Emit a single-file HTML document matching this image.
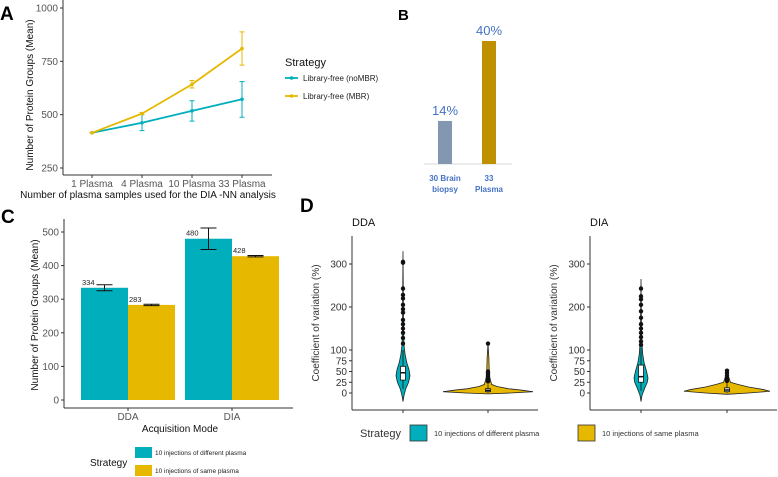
<!DOCTYPE html>
<html><head><meta charset="utf-8"><style>
body{margin:0;background:#fff;}
svg{display:block;font-family:"Liberation Sans",Arial,sans-serif;}
</style></head><body>
<svg id="fig" width="778" height="477" viewBox="0 0 778 477"></svg>
<script>
// ---- Panel A data ----
const aCats=["1 Plasma","4 Plasma","10 Plasma","33 Plasma"];
const aNoMBR=[415,462,518,572];
const aNoMBRLo=[415,425,470,488];
const aNoMBRHi=[415,500,565,655];
const aMBR=[415,505,642,810];
const aMBRLo=[415,500,625,732];
const aMBRHi=[415,510,660,888];
const aTicks=[250,500,750,1000];
// ---- Panel B data ----
const bCats=[["30 Brain","biopsy"],["33","Plasma"]];
const bVals=[14,40];
// ---- Panel C data ----
const cModes=["DDA","DIA"];
const cDiff=[334,480];
const cDiffLo=[325,448];
const cDiffHi=[343,512];
const cSame=[283,428];
const cSameLo=[281,426];
const cSameHi=[285,430];
const cTicks=[0,100,200,300,400,500];
// ---- Panel D data ----
const dTicks=[0,25,50,75,100,200,300];
const ddaDiffProfile=[[-20,0],[-5,0.15],[10,0.4],[25,0.8],[40,1],[55,0.85],[70,0.55],[90,0.3],[110,0.15],[150,0.08],[200,0.05],[260,0.03],[330,0]];
const ddaSameProfile=[[-2,0],[0,0.5],[3,1],[6,0.8],[10,0.45],[15,0.2],[20,0.08],[40,0.03],[80,0.02],[115,0]];
const diaDiffProfile=[[-20,0],[-5,0.15],[10,0.5],[25,0.9],[35,1],[50,0.8],[70,0.45],[90,0.25],[120,0.12],[170,0.05],[220,0.03],[265,0]];
const diaSameProfile=[[-3,0],[0,0.5],[4,1],[8,0.85],[14,0.5],[20,0.25],[25,0.08],[40,0.03],[52,0]];
const ddaDiffBox=[30,47,62,10,100];
const ddaSameBox=[3,6,10,0,20];
const diaDiffBox=[25,38,65,5,105];
const diaSameBox=[3,7,12,0,25];
const ddaDiffOut=[305,303,243,228,220,205,195,187,170,160,150,140,128,115];
const ddaSameOut=[115,50,46,42,38,34,30,27];
const diaDiffOut=[243,225,218,205,190,175,160,150,140,130,120,112];
const diaSameOut=[52,46,40,35,31,28];

const TEAL="#00AFBB",YEL="#E7B800",NS="http://www.w3.org/2000/svg";
const svg=document.getElementById('fig');
function el(tag,attrs,parent,txt){const e=document.createElementNS(NS,tag);for(const k in attrs)e.setAttribute(k,attrs[k]);if(txt!==undefined)e.textContent=txt;(parent||svg).appendChild(e);return e;}
function grp(name){const g=el('g',{},svg);return g;}

// ===== Panel A =====
const gA=grp('panel-a');
const aY=v=>168-(v-250)*(160/750);
const aX=i=>92+i*50;
let t=el('text',{x:0,y:20,'font-size':19,'font-weight':'bold'},gA,'A');
el('line',{x1:63,y1:0,x2:63,y2:175,stroke:'#333','stroke-width':1},gA);
el('line',{x1:63,y1:175,x2:272,y2:175,stroke:'#333','stroke-width':1},gA);
aTicks.forEach(v=>{el('line',{x1:60,x2:63,y1:aY(v),y2:aY(v),stroke:'#333'},gA);
 t=el('text',{x:58,y:aY(v)+3.5,'font-size':10,fill:'#555','text-anchor':'end'},gA,v);});
aCats.forEach((c,i)=>{el('line',{x1:aX(i),x2:aX(i),y1:175,y2:178,stroke:'#333'},gA);
 t=el('text',{x:aX(i),y:187,'font-size':10,fill:'#555','text-anchor':'middle'},gA,c);});
t=el('text',{x:148,y:198,'font-size':10,fill:'#111','text-anchor':'middle'},gA,'Number of plasma samples used for the DIA -NN analysis');
t=el('text',{x:0,y:0,'font-size':10,fill:'#111','text-anchor':'middle',transform:'translate(33,95) rotate(-90)'},gA,'Number of Protein Groups (Mean)');
function aSeries(vals,lo,hi,col,name){
 const pts=vals.map((v,i)=>aX(i)+','+aY(v)).join(' ');
 const p=el('polyline',{points:pts,fill:'none',stroke:col,'stroke-width':1.8},gA);
 vals.forEach((v,i)=>{
  const e=el('path',{d:`M${aX(i)-2.5},${aY(lo[i])}h5M${aX(i)},${aY(lo[i])}V${aY(hi[i])}M${aX(i)-2.5},${aY(hi[i])}h5`,stroke:col,'stroke-width':1,fill:'none'},gA);
  const c=el('circle',{cx:aX(i),cy:aY(v),r:1.8,fill:col},gA);});
}
aSeries(aNoMBR,aNoMBRLo,aNoMBRHi,TEAL,'nombr');
aSeries(aMBR,aMBRLo,aMBRHi,YEL,'mbr');
t=el('text',{x:285,y:66,'font-size':11,fill:'#111'},gA,'Strategy');
[[TEAL,'Library-free (noMBR)',78],[YEL,'Library-free (MBR)',96]].forEach(([c,l,y])=>{
 el('line',{x1:285,x2:298,y1:y,y2:y,stroke:c,'stroke-width':1.8},gA);el('circle',{cx:291.5,cy:y,r:1.8,fill:c},gA);
 t=el('text',{x:303,y:y+3,'font-size':8,fill:'#222'},gA,l);});

// ===== Panel B =====
const gB=grp('panel-b');
const bY=v=>164-v*(123/40);
const bX=i=>445+i*44;
t=el('text',{x:398,y:20,'font-size':15,'font-weight':'bold'},gB,'B');
el('line',{x1:424,x2:512,y1:164,y2:164,stroke:'#d9d9d9'},gB);
const bCols=['#8497B0','#BF9000'];
bVals.forEach((v,i)=>{
 const r=el('rect',{x:bX(i)-7,y:bY(v),width:14,height:164-bY(v),fill:bCols[i]},gB);
 t=el('text',{x:bX(i),y:bY(v)-6,'font-size':13,fill:'#4472C4','text-anchor':'middle'},gB,v+'%');
 bCats[i].forEach((s,j)=>{t=el('text',{x:bX(i),y:181+j*11,'font-size':8,'font-weight':'bold',fill:'#4472C4','text-anchor':'middle'},gB,s);});
});

// ===== Panel C =====
const gC=grp('panel-c');
const cY=v=>400-v*(168/500);
const cX=i=>128+i*104;
t=el('text',{x:1,y:223,'font-size':19,'font-weight':'bold'},gC,'C');
el('line',{x1:64,y1:219,x2:64,y2:408,stroke:'#333'},gC);
el('line',{x1:64,y1:408,x2:293,y2:408,stroke:'#333'},gC);
cTicks.forEach(v=>{el('line',{x1:61,x2:64,y1:cY(v),y2:cY(v),stroke:'#333'},gC);
 t=el('text',{x:59,y:cY(v)+3.5,'font-size':10,fill:'#555','text-anchor':'end'},gC,v);});
cModes.forEach((m,i)=>{
 el('line',{x1:cX(i),x2:cX(i),y1:408,y2:411,stroke:'#333'},gC);
 t=el('text',{x:cX(i),y:420,'font-size':10,fill:'#555','text-anchor':'middle'},gC,m);
 [[cDiff,cDiffLo,cDiffHi,TEAL,-47],[cSame,cSameLo,cSameHi,YEL,0]].forEach(([d,lo,hi,col,off])=>{
  const x0=cX(i)+off;
  const r=el('rect',{x:x0,y:cY(d[i]),width:47,height:400-cY(d[i]),fill:col},gC);
  const cx=x0+23.5;
  const e=el('path',{d:`M${cx-8},${cY(lo[i])}h16M${cx},${cY(lo[i])}V${cY(hi[i])}M${cx-8},${cY(hi[i])}h16`,stroke:'#111','stroke-width':1,fill:'none'},gC);
  t=el('text',{x:x0+1,y:cY(d[i])-3,'font-size':7.5,fill:'#222'},gC,d[i]);
 });
});
t=el('text',{x:180,y:432,'font-size':10,fill:'#111','text-anchor':'middle'},gC,'Acquisition Mode');
t=el('text',{x:0,y:0,'font-size':10,fill:'#111','text-anchor':'middle',transform:'translate(38,315) rotate(-90)'},gC,'Number of Protein Groups (Mean)');
t=el('text',{x:90,y:466,'font-size':10,fill:'#111'},gC,'Strategy');
[[TEAL,'10 injections of different plasma',447],[YEL,'10 injections of same plasma',465]].forEach(([c,l,y])=>{
 el('rect',{x:135,y:y,width:17,height:11,fill:c},gC);
 t=el('text',{x:155,y:y+8,'font-size':6.5,fill:'#222'},gC,l);});

// ===== Panel D =====
const gD=grp('panel-d');
const dY=v=>393-v*(129/300);
t=el('text',{x:300,y:212,'font-size':19,'font-weight':'bold'},gD,'D');
function violinPanel(ax,c1,c2,xEnd,title,profs,boxes,outs,widths){
 el('line',{x1:ax,y1:236,x2:ax,y2:410,stroke:'#333'},gD);
 el('line',{x1:ax,y1:410,x2:xEnd,y2:410,stroke:'#333'},gD);
 t=el('text',{x:ax,y:226,'font-size':11,fill:'#111'},gD,title);
 t=el('text',{x:0,y:0,'font-size':10,fill:'#333','text-anchor':'middle',transform:`translate(${ax-33},323) rotate(-90)`},gD,'Coefficient of variation (%)');
 dTicks.forEach(v=>{el('line',{x1:ax-3,x2:ax,y1:dY(v),y2:dY(v),stroke:'#333'},gD);
  t=el('text',{x:ax-5,y:dY(v)+3.5,'font-size':10,fill:'#333','text-anchor':'end'},gD,v);});
 [c1,c2].forEach((cx,k)=>{
  el('line',{x1:cx,x2:cx,y1:410,y2:413,stroke:'#333'},gD);
  const pr=profs[k],w=widths[k],col=k?YEL:TEAL;
  let d='M'+pr.map(p=>(cx+p[1]*w)+','+dY(p[0])).join('L')+'L'+pr.slice().reverse().map(p=>(cx-p[1]*w)+','+dY(p[0])).join('L')+'Z';
  const v=el('path',{d:d,fill:col,stroke:'#222','stroke-width':0.8},gD);
  const b=boxes[k];
  el('line',{x1:cx,x2:cx,y1:dY(b[3]),y2:dY(b[4]),stroke:'#111','stroke-width':0.8},gD);
  const r=el('rect',{x:cx-2.5,y:dY(b[2]),width:5,height:dY(b[0])-dY(b[2]),fill:'#fff',stroke:'#111','stroke-width':0.8},gD);
  el('line',{x1:cx-2.5,x2:cx+2.5,y1:dY(b[1]),y2:dY(b[1]),stroke:'#111','stroke-width':1.5},gD);
  outs[k].forEach(o=>{const c=el('circle',{cx:cx,cy:dY(o),r:2.2,fill:'#111'},gD);});
 });
}
violinPanel(352,403,488,538,'DDA',[ddaDiffProfile,ddaSameProfile],[ddaDiffBox,ddaSameBox],[ddaDiffOut,ddaSameOut],[7,45]);
violinPanel(590,641,727,777,'DIA',[diaDiffProfile,diaSameProfile],[diaDiffBox,diaSameBox],[diaDiffOut,diaSameOut],[7,43]);
t=el('text',{x:360,y:437,'font-size':11,fill:'#333'},gD,'Strategy');
[[TEAL,'10 injections of different plasma',410],[YEL,'10 injections of same plasma',578]].forEach(([c,l,x])=>{
 el('rect',{x:x,y:425,width:17,height:16,fill:c,stroke:'#333','stroke-width':0.8},gD);
 t=el('text',{x:x+24,y:436,'font-size':7.5,fill:'#333'},gD,l);});
</script>
</body></html>
